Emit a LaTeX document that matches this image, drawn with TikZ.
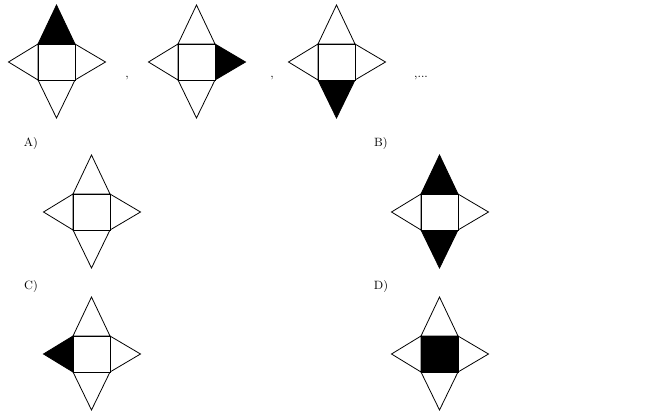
\documentclass[tikz,border=0pt]{standalone}
\begin{document}
\begin{tikzpicture}[x=0.75pt,y=-0.75pt,line width=0.6pt,
  lbl/.style={font=\small,inner sep=0pt}]
\useasboundingbox (0,0) rectangle (650,418);
% #1,#2 centre; #3 top, #4 right, #5 bottom, #6 left, #7 square fill
\newcommand\starfig[7]{%
  \filldraw[fill=#3] (#1-18.5,#2-18) -- (#1,#2-57) -- (#1+18.5,#2-18) -- cycle;
  \filldraw[fill=#4] (#1+18.5,#2-18) -- (#1+49,#2) -- (#1+18.5,#2+18) -- cycle;
  \filldraw[fill=#5] (#1-18.5,#2+18) -- (#1,#2+56) -- (#1+18.5,#2+18) -- cycle;
  \filldraw[fill=#6] (#1-18.5,#2-18) -- (#1-48,#2) -- (#1-18.5,#2+18) -- cycle;
  \filldraw[fill=#7] (#1-18.5,#2-18) rectangle (#1+18.5,#2+18);}
\starfig{56.5}{62}{black}{white}{white}{white}{white}
\starfig{196.5}{62}{white}{black}{white}{white}{white}
\starfig{336.5}{62}{white}{white}{black}{white}{white}
\node[lbl] (c1) at (127,78) {,};
\node[lbl] (c2) at (272,78) {,};
\node[lbl] (c3) at (421,78) {,...};
\node[lbl] (la) at (31,143) {A)};
\node[lbl] (lb) at (381,143) {B)};
\node[lbl] (lc) at (31,286) {C)};
\node[lbl] (ld) at (381,286) {D)};
\starfig{91.5}{212}{white}{white}{white}{white}{white}
\starfig{439.5}{212}{black}{white}{black}{white}{white}
\starfig{91.5}{354}{white}{white}{white}{black}{white}
\starfig{439.5}{354}{white}{white}{white}{white}{black}
\end{tikzpicture}
\end{document}
